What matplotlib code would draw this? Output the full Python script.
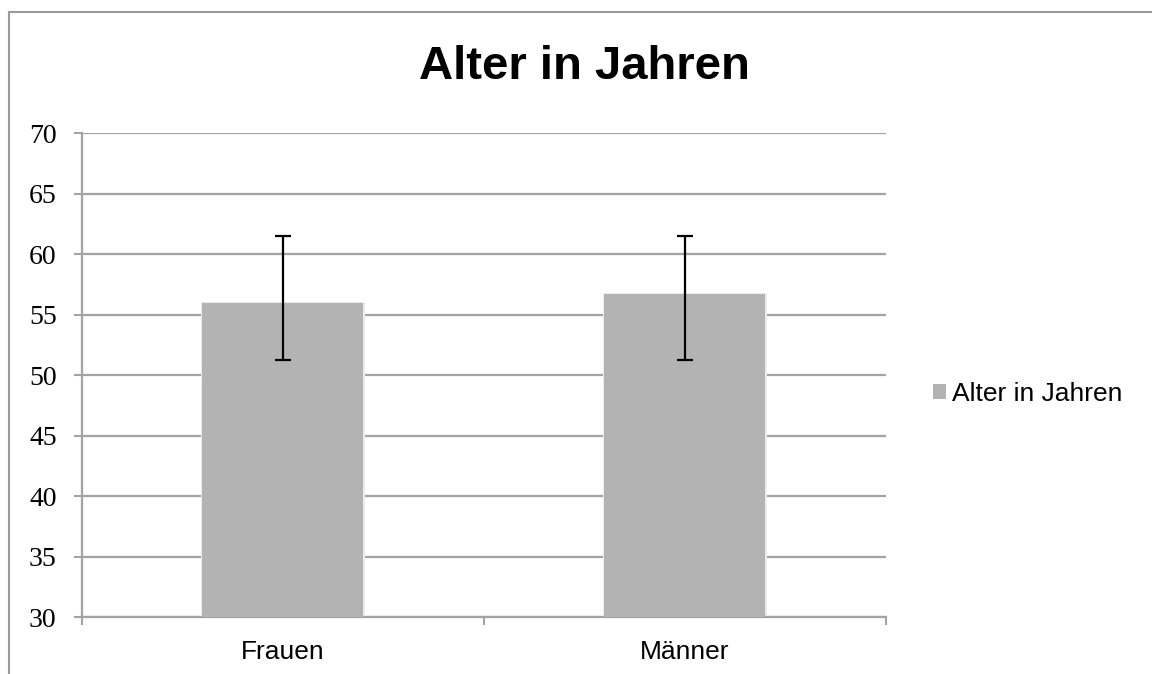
import matplotlib
matplotlib.use("Agg")
import matplotlib.pyplot as plt
from matplotlib.lines import Line2D
import numpy as np

# -------------------------
# Data
# -------------------------
categories = ["Frauen", "Männer"]
mean_age = [56.0, 56.7]
err_low = [51.3, 51.3]    # lower end of error bar
err_high = [61.5, 61.5]   # upper end of error bar
series_name = "Alter in Jahren"
y_ticks = [30, 35, 40, 45, 50, 55, 60, 65, 70]

bar_color = "#b3b3b3"
grid_color = "#a3a3a3"

# -------------------------
# Plot
# -------------------------
fig = plt.figure(figsize=(11.52, 6.74), dpi=100)
ax = fig.add_axes([0.0709, 0.0841, 0.6979, 0.7181])

x = np.arange(len(categories))
mean = np.array(mean_age)
yerr = np.vstack([mean - np.array(err_low), np.array(err_high) - mean])

# faint shadow behind the bars
ax.bar(x + 0.002, mean - 30 + 0.1, bottom=30, width=0.408, color="#ececec", zorder=2)
bars = ax.bar(x, mean - 30, bottom=30, width=0.4, color=bar_color,
              label=series_name, zorder=3)

ax.errorbar(x, mean, yerr=yerr, fmt="none", ecolor="black", elinewidth=1.6,
            capsize=6, capthick=1.6, zorder=4)

# axes formatting
ax.set_xlim(-0.5, 1.5)
ax.set_ylim(30, 70)
ax.set_yticks(y_ticks)
ax.set_yticklabels([str(t) for t in y_ticks], fontfamily="Liberation Serif", fontsize=20)
ax.tick_params(axis="y", length=6, width=1.5, color=grid_color, pad=12)

ax.set_xticks(x)
ax.set_xticklabels(categories, fontfamily="Liberation Sans", fontsize=19)
ax.tick_params(axis="x", which="major", length=0, pad=16)
ax.set_xticks([-0.5, 0.5, 1.5], minor=True)
ax.tick_params(axis="x", which="minor", length=6, width=1.5, color=grid_color)

ax.grid(axis="y", color=grid_color, linewidth=1.6, zorder=0)
ax.set_axisbelow(True)
for s in ["top", "right"]:
    ax.spines[s].set_visible(False)
for s in ["left", "bottom"]:
    ax.spines[s].set_color(grid_color)
    ax.spines[s].set_linewidth(1.6)

# title
fig.text(584 / 1152, 1 - 67 / 674, "Alter in Jahren", ha="center", va="center",
         fontfamily="Liberation Sans", fontweight="bold", fontsize=34)

# legend on the right
fig.legend(handles=[bars], labels=[series_name], loc="center left",
           bbox_to_anchor=(933 / 1152, 1 - 394 / 674), frameon=False,
           prop={"family": "Liberation Sans", "size": 19},
           handlelength=0.48, handleheight=0.48, handletextpad=0.25,
           borderpad=0, borderaxespad=0)

# outer chart frame (cut at right and bottom)
fig.add_artist(Line2D([9 / 1152, 9 / 1152], [0, 1 - 12 / 674], color="#999999", linewidth=1.5))
fig.add_artist(Line2D([9 / 1152, 1], [1 - 12 / 674, 1 - 12 / 674], color="#999999", linewidth=1.5))

fig.savefig("out.png", dpi=100)
